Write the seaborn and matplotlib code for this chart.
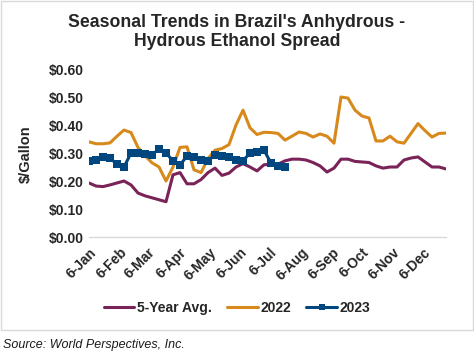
import matplotlib
matplotlib.use('Agg')
import matplotlib.pyplot as plt
import matplotlib.dates as mdates
from matplotlib.patches import Rectangle
from matplotlib.ticker import FuncFormatter
import pandas as pd
import seaborn as sns

sns.set_style('white')
plt.rcParams['font.family'] = ['Liberation Sans', 'DejaVu Sans']

# Weekly spread, $/gallon
weeks = pd.date_range(start='2023-01-06', periods=52, freq='7D')

avg_5yr = [0.193, 0.182, 0.180, 0.186, 0.193, 0.200, 0.186, 0.157, 0.147, 0.140,
           0.133, 0.126, 0.222, 0.230, 0.190, 0.190, 0.205, 0.230, 0.246, 0.220,
           0.228, 0.250, 0.262, 0.250, 0.236, 0.258, 0.260, 0.260, 0.272, 0.278,
           0.278, 0.275, 0.266, 0.254, 0.232, 0.246, 0.278, 0.278, 0.270, 0.268,
           0.266, 0.254, 0.246, 0.250, 0.250, 0.275, 0.282, 0.286, 0.268, 0.250,
           0.250, 0.243]

y2022 = [0.340, 0.333, 0.333, 0.336, 0.360, 0.382, 0.373, 0.320, 0.290, 0.265,
         0.250, 0.200, 0.250, 0.320, 0.322, 0.240, 0.230, 0.280, 0.310, 0.316,
         0.330, 0.400, 0.453, 0.390, 0.366, 0.374, 0.373, 0.370, 0.346, 0.360,
         0.375, 0.370, 0.357, 0.368, 0.360, 0.335, 0.500, 0.496, 0.453, 0.432,
         0.425, 0.343, 0.343, 0.360, 0.340, 0.335, 0.370, 0.405, 0.380, 0.357,
         0.370, 0.371]

y2023 = [0.272, 0.275, 0.286, 0.282, 0.260, 0.250, 0.300, 0.300, 0.296, 0.293,
         0.315, 0.300, 0.272, 0.257, 0.289, 0.286, 0.275, 0.272, 0.293, 0.289,
         0.286, 0.275, 0.272, 0.300, 0.302, 0.310, 0.264, 0.254, 0.250]

colors = {'5-Year Avg.': '#7A2358', '2022': '#D8891C', '2023': '#00467F'}

fig = plt.figure(figsize=(4.74, 3.56), dpi=100)
ax = fig.add_axes([89 / 474, 1 - 237 / 356, 357 / 474, 168 / 356])

sns.lineplot(x=weeks, y=avg_5yr, ax=ax, color=colors['5-Year Avg.'],
             linewidth=2.2, label='5-Year Avg.')
sns.lineplot(x=weeks, y=y2022, ax=ax, color=colors['2022'],
             linewidth=2.2, label='2022')
sns.lineplot(x=weeks[:len(y2023)], y=y2023, ax=ax, color=colors['2023'],
             linewidth=2.2, marker='s', markersize=5.5, markeredgewidth=0,
             label='2023')

ax.set_ylim(0, 0.6)
ax.set_yticks([0, 0.1, 0.2, 0.3, 0.4, 0.5, 0.6])
ax.yaxis.set_major_formatter(FuncFormatter(lambda v, p: f'${v:.2f}'))
ax.set_xlim(weeks[0], weeks[-1])
# ticks on the 6th of each month
month_ticks = pd.date_range(start='2023-01-01', periods=12, freq='MS') + pd.Timedelta(days=5)
ax.set_xticks(month_ticks)
ax.xaxis.set_major_formatter(mdates.DateFormatter('6-%b'))

for lab in ax.get_xticklabels():
    lab.set_rotation(45)
    lab.set_ha('right')
    lab.set_rotation_mode('anchor')
    lab.set_fontweight('bold')
    lab.set_fontsize(10)
for lab in ax.get_yticklabels():
    lab.set_fontweight('bold')
    lab.set_fontsize(10)
ax.tick_params(axis='both', length=0, pad=4)
ax.tick_params(axis='x', pad=6)

for s in ['top', 'right', 'left']:
    ax.spines[s].set_visible(False)
ax.spines['bottom'].set_color('#D9D9D9')
ax.spines['bottom'].set_linewidth(1)

ax.set_xlabel('')
ax.set_ylabel('$/Gallon', fontsize=10.5, fontweight='bold')
ax.yaxis.set_label_coords(-0.157, 0.494)

handles, labels = ax.get_legend_handles_labels()
ax.legend_.remove()
fig.legend(handles, labels, loc='center', bbox_to_anchor=(0.5, 1 - 308 / 356),
           ncol=3, frameon=False, handlelength=2.2, columnspacing=1.1,
           handletextpad=0.2, markerscale=0.8,
           prop={'weight': 'bold', 'size': 10})

fig.text(0.5, 1 - 32 / 356, "Seasonal Trends in Brazil's Anhydrous -\nHydrous Ethanol Spread",
         ha='center', va='center', fontsize=12.7, fontweight='bold', linespacing=1.1)

fig.patches.append(Rectangle((0.002, 1 - 330 / 356), 0.995, 330 / 356 - 0.003,
                             transform=fig.transFigure, fill=False,
                             edgecolor='#D9D9D9', linewidth=1))
fig.text(0.006, 1 - 345 / 356, 'Source: World Perspectives, Inc.',
         ha='left', va='center', fontsize=9, style='italic', color='#1a1a1a')

fig.savefig('out.png', dpi=100)
